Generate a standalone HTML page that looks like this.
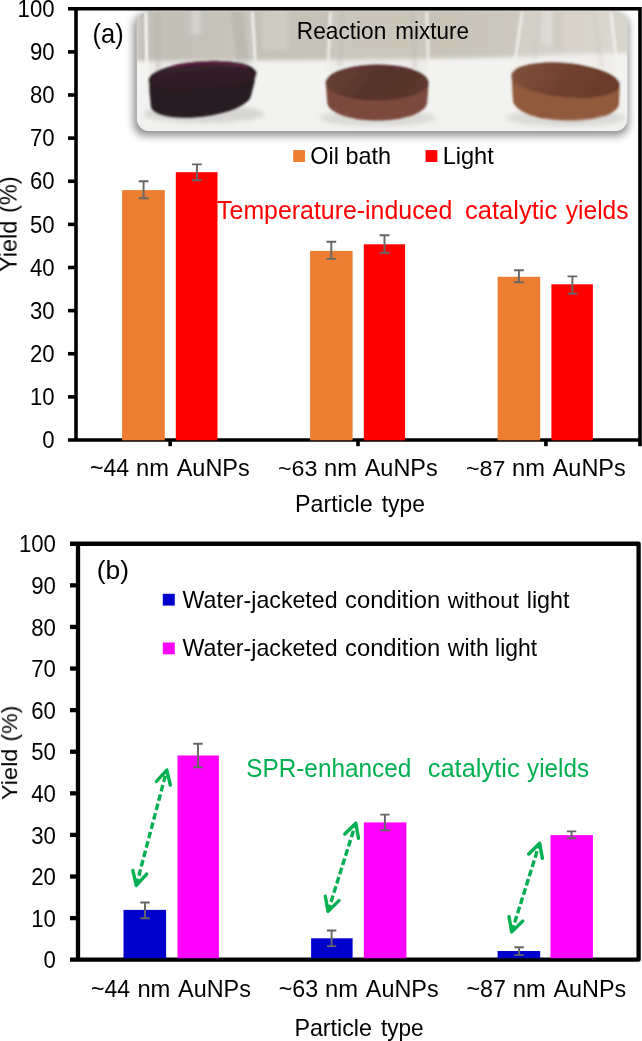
<!DOCTYPE html>
<html><head><meta charset="utf-8"><title>Figure</title>
<style>
html,body{margin:0;padding:0;background:#fff;}
body{width:642px;height:1041px;overflow:hidden;}
svg{display:block;font-family:"Liberation Sans",sans-serif;}
text{filter:url(#tb);}
</style></head><body>
<svg width="642" height="1041" viewBox="0 0 642 1041">
<defs><filter id="tb" x="-5%" y="-20%" width="110%" height="140%"><feGaussianBlur stdDeviation="0.35"/></filter></defs>
<rect width="642" height="1041" fill="#fff"/>
<defs>
<clipPath id="pc"><rect x="136.7" y="11.2" width="490.9" height="120.0" rx="13"/></clipPath>
<filter id="ps" x="-10%" y="-30%" width="120%" height="160%"><feGaussianBlur stdDeviation="4.2"/></filter>
<filter id="b1" x="-10%" y="-10%" width="120%" height="120%"><feGaussianBlur stdDeviation="1.0"/></filter>
<filter id="b2" x="-10%" y="-10%" width="120%" height="120%"><feGaussianBlur stdDeviation="2.2"/></filter>
<filter id="b5" x="-20%" y="-20%" width="140%" height="140%"><feGaussianBlur stdDeviation="5"/></filter>
<linearGradient id="wall" x1="0" y1="0" x2="1" y2="0">
<stop offset="0" stop-color="#d8d5cc"/><stop offset="0.018" stop-color="#d4d1c8"/><stop offset="0.035" stop-color="#bbb8b0"/><stop offset="0.12" stop-color="#bdbab1"/><stop offset="0.3" stop-color="#c5c2b8"/><stop offset="0.55" stop-color="#c5c0b3"/><stop offset="0.7" stop-color="#cac6bb"/><stop offset="0.85" stop-color="#d1cdc2"/><stop offset="1" stop-color="#d9d6cb"/></linearGradient>
<linearGradient id="tbl" x1="0" y1="0" x2="0" y2="1">
<stop offset="0" stop-color="#e9e8e5"/><stop offset="0.45" stop-color="#f3f3f1"/><stop offset="1" stop-color="#f0f0ee"/></linearGradient>
<linearGradient id="s1" x1="0" y1="0" x2="0" y2="1"><stop offset="0" stop-color="#4d1f3a"/><stop offset="0.25" stop-color="#33202a"/><stop offset="1" stop-color="#2b1b22"/></linearGradient>
<linearGradient id="s2" x1="0" y1="0" x2="1" y2="0.3"><stop offset="0" stop-color="#6c4236"/><stop offset="0.6" stop-color="#55332b"/><stop offset="1" stop-color="#5c372d"/></linearGradient>
<linearGradient id="s3" x1="0" y1="0" x2="1" y2="0.2"><stop offset="0" stop-color="#83523b"/><stop offset="0.55" stop-color="#70422e"/><stop offset="1" stop-color="#693c29"/></linearGradient>
</defs>
<rect x="133.7" y="14.2" width="494.9" height="121.5" rx="12" fill="#000" opacity="0.45" filter="url(#ps)"/>
<g clip-path="url(#pc)">
<rect x="136.7" y="11.2" width="490.9" height="120.0" fill="url(#tbl)"/>
<g filter="url(#b2)"><path d="M126.69999999999999 1.1999999999999993H637.6V52.5 L560 54.5 L500 57.5 L330 60 L126.69999999999999 61Z" fill="url(#wall)"/>
<path d="M196 8 V34" stroke="#e6e4de" stroke-width="9" opacity="0.55"/>
<path d="M275 8 V50" stroke="#d9d6cc" stroke-width="26" opacity="0.5"/>
<path d="M547 8 V44" stroke="#e8e6e0" stroke-width="11" opacity="0.55"/><path d="M558 8 V50" stroke="#b9b6ad" stroke-width="9" opacity="0.3"/>
</g>
<g filter="url(#b2)" opacity="0.25">
<ellipse cx="204" cy="114" rx="60" ry="9" fill="#8a8884"/>
<ellipse cx="378" cy="118" rx="58" ry="8" fill="#9a9894"/>
<ellipse cx="566" cy="118" rx="60" ry="8" fill="#9a9894"/>
</g>
<g filter="url(#b1)">
<path d="M147 0 L147 90 L257 80 L253 0Z" fill="#d4d2cb" opacity="0.25"/>
<path d="M145.8 12 L146.5 60 L148 86" stroke="#f7f6f0" stroke-width="3.4" opacity="0.95" fill="none"/>
<path d="M252.5 12 L256.3 80" stroke="#f2f1ec" stroke-width="3.2" opacity="0.85"/>
<path d="M158 12 V72" stroke="#b5b2a9" stroke-width="6" opacity="0.3"/>
<path d="M237 12 L243 64" stroke="#a5a29a" stroke-width="12" opacity="0.3"/>
<path d="M148.4 80.4 L148.5 79.0 L149.1 77.7 L150.0 76.3 L151.3 74.9 L153.0 73.5 L155.1 72.2 L157.6 70.9 L160.4 69.6 L163.5 68.4 L166.9 67.3 L170.6 66.2 L174.5 65.2 L178.7 64.3 L183.0 63.5 L187.5 62.7 L192.1 62.1 L196.7 61.6 L201.4 61.2 L206.1 61.0 L210.8 60.8 L215.5 60.8 L220.0 60.9 L224.4 61.1 L228.6 61.4 L232.6 61.8 L236.4 62.4 L240.0 63.1 L243.2 63.8 L246.2 64.7 L248.8 65.6 L251.0 66.7 L252.9 67.8 L254.4 69.0 L255.6 70.2 L256.3 71.5 L256.6 72.8 L256.5 74.2 L251.1 95.5 L250.7 97.0 L249.9 98.5 L248.8 100.1 L247.3 101.6 L245.4 103.1 L243.2 104.6 L240.7 106.1 L237.9 107.5 L234.8 108.9 L231.4 110.2 L227.8 111.4 L224.0 112.5 L220.0 113.6 L215.9 114.5 L211.7 115.4 L207.4 116.1 L203.0 116.7 L198.6 117.1 L194.3 117.5 L190.0 117.7 L185.8 117.8 L181.7 117.7 L177.7 117.5 L173.9 117.2 L170.3 116.8 L167.0 116.2 L163.9 115.5 L161.1 114.7 L158.6 113.8 L156.4 112.7 L154.6 111.6 L153.1 110.4 L152.0 109.1 L151.2 107.8 L150.9 106.4Z" fill="#281a20"/><ellipse cx="202.5" cy="76.6" rx="54.2" ry="15.4" transform="rotate(-4 202.5 76.6)" fill="url(#s1)"/>
<path d="M172 66.5 C190 61.5 225 60.5 247 67.5" stroke="#6a2449" stroke-width="2.4" fill="none" opacity="0.8"/>
</g>
<g filter="url(#b1)">
<path d="M330 0 L325.6 85 L428.8 85 L427 0Z" fill="#d9d6cf" opacity="0.25"/>
<path d="M330.5 12 L327 84" stroke="#f3f2ee" stroke-width="3.2" opacity="0.75"/>
<path d="M426.8 12 L429.2 84" stroke="#f3f2ee" stroke-width="3.2" opacity="0.75"/>
<path d="M342 12 L340 66" stroke="#b7b4aa" stroke-width="6" opacity="0.25"/>
<path d="M412 12 L415 68" stroke="#b7b4aa" stroke-width="6" opacity="0.25"/>
<path d="M325.7 82.6 L325.9 81.0 L326.5 79.5 L327.5 77.9 L328.8 76.4 L330.5 75.0 L332.6 73.6 L335.0 72.3 L337.7 71.0 L340.8 69.9 L344.1 68.8 L347.7 67.9 L351.4 67.0 L355.4 66.3 L359.6 65.7 L363.9 65.2 L368.3 64.9 L372.7 64.7 L377.2 64.6 L381.7 64.7 L386.1 64.9 L390.5 65.2 L394.8 65.7 L399.0 66.3 L402.9 67.0 L406.7 67.9 L410.3 68.8 L413.6 69.9 L416.7 71.0 L419.4 72.3 L421.8 73.6 L423.9 75.0 L425.6 76.4 L426.9 77.9 L427.9 79.5 L428.5 81.0 L428.7 82.6 L427.2 102.1 L427.0 103.7 L426.4 105.3 L425.5 106.9 L424.2 108.4 L422.5 109.9 L420.5 111.3 L418.2 112.7 L415.5 114.0 L412.6 115.2 L409.3 116.3 L405.9 117.3 L402.2 118.1 L398.3 118.9 L394.3 119.5 L390.1 120.0 L385.9 120.3 L381.6 120.5 L377.2 120.6 L372.8 120.5 L368.5 120.3 L364.3 120.0 L360.1 119.5 L356.1 118.9 L352.2 118.1 L348.5 117.3 L345.1 116.3 L341.8 115.2 L338.9 114.0 L336.2 112.7 L333.9 111.3 L331.9 109.9 L330.2 108.4 L328.9 106.9 L328.0 105.3 L327.4 103.7 L327.2 102.1Z" fill="#7b483c"/><ellipse cx="377.2" cy="82.6" rx="51.5" ry="18" transform="rotate(0 377.2 82.6)" fill="url(#s2)"/>
<path d="M347 69.5 C362 64.5 398 64.5 412 70" stroke="#6d2c42" stroke-width="2.2" fill="none" opacity="0.75"/>
</g>
<g filter="url(#b1)">
<path d="M523 0 L511 80 L620 90 L611 0Z" fill="#e6e4de" opacity="0.22"/>
<path d="M522 12 L512.6 78" stroke="#f5f4f0" stroke-width="3.2" opacity="0.7"/>
<path d="M611 12 L619.8 88" stroke="#f5f4f0" stroke-width="3" opacity="0.75"/>
<path d="M540 12 L534 60" stroke="#c2bfb6" stroke-width="6" opacity="0.2"/>
<path d="M594 12 L602 68" stroke="#c2bfb6" stroke-width="6" opacity="0.2"/>
<path d="M511.6 75.0 L511.9 73.5 L512.7 72.1 L513.8 70.7 L515.4 69.4 L517.3 68.2 L519.6 67.1 L522.3 66.1 L525.3 65.2 L528.6 64.4 L532.2 63.7 L536.0 63.2 L540.1 62.8 L544.3 62.5 L548.7 62.3 L553.3 62.3 L557.9 62.4 L562.6 62.7 L567.3 63.1 L572.1 63.6 L576.7 64.2 L581.3 65.0 L585.8 65.9 L590.1 66.9 L594.2 68.0 L598.1 69.2 L601.8 70.4 L605.2 71.8 L608.2 73.2 L611.0 74.7 L613.4 76.2 L615.5 77.7 L617.1 79.2 L618.4 80.8 L619.3 82.4 L619.8 83.9 L619.8 85.4 L619.0 103.5 L618.7 105.2 L618.0 106.9 L617.0 108.5 L615.5 110.1 L613.7 111.6 L611.5 113.0 L609.0 114.4 L606.1 115.6 L603.0 116.8 L599.5 117.8 L595.8 118.7 L591.9 119.5 L587.8 120.1 L583.5 120.6 L579.1 121.0 L574.5 121.2 L569.9 121.3 L565.3 121.2 L560.7 121.0 L556.1 120.6 L551.6 120.0 L547.2 119.4 L543.0 118.6 L538.9 117.7 L535.1 116.6 L531.4 115.4 L528.1 114.2 L525.0 112.8 L522.2 111.4 L519.8 109.8 L517.7 108.3 L516.0 106.6 L514.7 105.0 L513.7 103.3 L513.2 101.6 L513.0 99.9 L511.6 76.5Z" fill="#915a3d"/><ellipse cx="565.7" cy="80.2" rx="54.4" ry="17.2" transform="rotate(5.5 565.7 80.2)" fill="url(#s3)"/>
<path d="M545 119 C560 122 590 121 603 116" stroke="#e9e2dc" stroke-width="1.6" fill="none" opacity="0.7" stroke-dasharray="2 1.5"/>
</g>
</g>
<path d="M68.0 8.75H640.0V446.2" stroke="#000" stroke-width="3.6" fill="none"/>
<path d="M76.0 8.75V440.0M68.0 440.0H640.0" stroke="#000" stroke-width="3.6" fill="none"/>
<path d="M68.0 396.88H76.0" stroke="#000" stroke-width="3.6"/>
<path d="M68.0 353.75H76.0" stroke="#000" stroke-width="3.6"/>
<path d="M68.0 310.62H76.0" stroke="#000" stroke-width="3.6"/>
<path d="M68.0 267.50H76.0" stroke="#000" stroke-width="3.6"/>
<path d="M68.0 224.38H76.0" stroke="#000" stroke-width="3.6"/>
<path d="M68.0 181.25H76.0" stroke="#000" stroke-width="3.6"/>
<path d="M68.0 138.12H76.0" stroke="#000" stroke-width="3.6"/>
<path d="M68.0 95.00H76.0" stroke="#000" stroke-width="3.6"/>
<path d="M68.0 51.88H76.0" stroke="#000" stroke-width="3.6"/>
<path d="M170.15 440.0V446.2" stroke="#000" stroke-width="3.6"/>
<path d="M358.00 440.0V446.2" stroke="#000" stroke-width="3.6"/>
<path d="M545.90 440.0V446.2" stroke="#000" stroke-width="3.6"/>
<rect x="122.1" y="190.1" width="42.70" height="250.20" fill="#ED7D31"/>
<path d="M143.60 181.20V198.30M138.70 181.20H148.50M138.70 198.30H148.50" stroke="#666" stroke-width="1.9" fill="none"/>
<rect x="175.8" y="172.2" width="41.70" height="268.10" fill="#FF0000"/>
<path d="M196.90 164.40V180.20M192.00 164.40H201.80M192.00 180.20H201.80" stroke="#666" stroke-width="1.9" fill="none"/>
<rect x="310.1" y="250.9" width="42.50" height="189.40" fill="#ED7D31"/>
<path d="M331.30 241.80V258.90M326.40 241.80H336.20M326.40 258.90H336.20" stroke="#666" stroke-width="1.9" fill="none"/>
<rect x="363.8" y="244.3" width="41.30" height="196.00" fill="#FF0000"/>
<path d="M384.50 235.20V252.70M379.60 235.20H389.40M379.60 252.70H389.40" stroke="#666" stroke-width="1.9" fill="none"/>
<rect x="497.6" y="276.8" width="42.60" height="163.50" fill="#ED7D31"/>
<path d="M518.90 270.30V282.20M514.00 270.30H523.80M514.00 282.20H523.80" stroke="#666" stroke-width="1.9" fill="none"/>
<rect x="551.4" y="284.3" width="41.50" height="156.00" fill="#FF0000"/>
<path d="M572.40 276.40V293.60M567.50 276.40H577.30M567.50 293.60H577.30" stroke="#666" stroke-width="1.9" fill="none"/>
<text transform="translate(42.31,448.20) scale(0.9650,1)" font-size="23.0" fill="#000">0</text>
<text transform="translate(29.97,405.07) scale(0.9650,1)" font-size="23.0" fill="#000">10</text>
<text transform="translate(29.97,361.95) scale(0.9650,1)" font-size="23.0" fill="#000">20</text>
<text transform="translate(29.97,318.82) scale(0.9650,1)" font-size="23.0" fill="#000">30</text>
<text transform="translate(29.97,275.70) scale(0.9650,1)" font-size="23.0" fill="#000">40</text>
<text transform="translate(29.97,232.57) scale(0.9650,1)" font-size="23.0" fill="#000">50</text>
<text transform="translate(29.97,189.45) scale(0.9650,1)" font-size="23.0" fill="#000">60</text>
<text transform="translate(29.97,146.32) scale(0.9650,1)" font-size="23.0" fill="#000">70</text>
<text transform="translate(29.97,103.20) scale(0.9650,1)" font-size="23.0" fill="#000">80</text>
<text transform="translate(29.97,60.08) scale(0.9650,1)" font-size="23.0" fill="#000">90</text>
<text transform="translate(17.62,16.95) scale(0.9650,1)" font-size="23.0" fill="#000">100</text>
<text transform="translate(16.60,271.97) rotate(-90) scale(1.0087,1)" font-size="23.3" fill="#000">Yield</text>
<text transform="translate(16.60,212.90) rotate(-90) scale(1.0107,1)" font-size="23.3" fill="#000">(%)</text>
<text transform="translate(89.93,476.00) scale(1.0034,1)" font-size="23.0" fill="#000">~44</text>
<text transform="translate(136.02,476.00) scale(1.0316,1)" font-size="23.0" fill="#000">nm</text>
<text transform="translate(176.70,476.00) scale(1.0203,1)" font-size="23.0" fill="#000">AuNPs</text>
<text transform="translate(277.92,476.00) scale(1.0130,1)" font-size="23.0" fill="#000">~63</text>
<text transform="translate(324.02,476.00) scale(1.0316,1)" font-size="23.0" fill="#000">nm</text>
<text transform="translate(364.70,476.00) scale(1.0203,1)" font-size="23.0" fill="#000">AuNPs</text>
<text transform="translate(465.92,476.00) scale(1.0130,1)" font-size="23.0" fill="#000">~87</text>
<text transform="translate(512.02,476.00) scale(1.0316,1)" font-size="23.0" fill="#000">nm</text>
<text transform="translate(552.70,476.00) scale(1.0203,1)" font-size="23.0" fill="#000">AuNPs</text>
<text transform="translate(295.08,511.90) scale(1.0113,1)" font-size="23.0" fill="#000">Particle</text>
<text transform="translate(381.70,511.90) scale(0.9943,1)" font-size="23.0" fill="#000">type</text>
<text transform="translate(92.61,43.10) scale(0.9428,1)" font-size="27.0" fill="#000">(a)</text>
<text transform="translate(296.73,38.50) scale(0.9464,1)" font-size="24.0" fill="#000">Reaction</text>
<text transform="translate(395.30,38.50) scale(0.9356,1)" font-size="24.0" fill="#000">mixture</text>
<rect x="293.2" y="150.1" width="11.8" height="11.9" fill="#ED7D31"/>
<text transform="translate(310.30,163.50) scale(1.0196,1)" font-size="23.0" fill="#000">Oil bath</text>
<rect x="425.6" y="150.1" width="11.8" height="11.9" fill="#FF0000"/>
<text transform="translate(442.66,163.50) scale(1.0258,1)" font-size="23.0" fill="#000">Light</text>
<text transform="translate(217.11,218.60) scale(0.9764,1)" font-size="25.5" fill="#FF0000">Temperature-induced</text>
<text transform="translate(465.00,218.60) scale(1.0020,1)" font-size="25.5" fill="#FF0000">catalytic</text>
<text transform="translate(565.80,218.60) scale(0.9628,1)" font-size="25.5" fill="#FF0000">yields</text>
<path d="M70.0 543.75H638.6V959.7H70.0M78.0 543.75V959.7" stroke="#000" stroke-width="4.3" fill="none" stroke-linejoin="round"/>
<path d="M70.0 918.11H78.0" stroke="#000" stroke-width="4.3"/>
<path d="M70.0 876.51H78.0" stroke="#000" stroke-width="4.3"/>
<path d="M70.0 834.92H78.0" stroke="#000" stroke-width="4.3"/>
<path d="M70.0 793.32H78.0" stroke="#000" stroke-width="4.3"/>
<path d="M70.0 751.73H78.0" stroke="#000" stroke-width="4.3"/>
<path d="M70.0 710.13H78.0" stroke="#000" stroke-width="4.3"/>
<path d="M70.0 668.54H78.0" stroke="#000" stroke-width="4.3"/>
<path d="M70.0 626.94H78.0" stroke="#000" stroke-width="4.3"/>
<path d="M70.0 585.35H78.0" stroke="#000" stroke-width="4.3"/>
<rect x="123.5" y="909.9" width="42.60" height="48.30" fill="#0000CC"/>
<path d="M145.00 902.50V918.30M140.30 902.50H149.70M140.30 918.30H149.70" stroke="#666" stroke-width="1.9" fill="none"/>
<rect x="177.5" y="755.5" width="41.40" height="202.70" fill="#FF00FF"/>
<path d="M198.00 743.70V767.20M193.30 743.70H202.70M193.30 767.20H202.70" stroke="#666" stroke-width="1.9" fill="none"/>
<rect x="311.1" y="938.3" width="41.50" height="19.90" fill="#0000CC"/>
<path d="M331.60 930.50V946.10M326.90 930.50H336.30M326.90 946.10H336.30" stroke="#666" stroke-width="1.9" fill="none"/>
<rect x="363.8" y="822.4" width="42.60" height="135.80" fill="#FF00FF"/>
<path d="M384.90 814.60V830.20M380.20 814.60H389.60M380.20 830.20H389.60" stroke="#666" stroke-width="1.9" fill="none"/>
<rect x="497.6" y="951.0" width="42.60" height="7.20" fill="#0000CC"/>
<path d="M519.10 947.30V955.10M514.40 947.30H523.80M514.40 955.10H523.80" stroke="#666" stroke-width="1.9" fill="none"/>
<rect x="550.5" y="835.1" width="42.40" height="123.10" fill="#FF00FF"/>
<path d="M571.60 831.40V838.30M566.90 831.40H576.30M566.90 838.30H576.30" stroke="#666" stroke-width="1.9" fill="none"/>
<text transform="translate(43.61,968.40) scale(0.9650,1)" font-size="23.0" fill="#000">0</text>
<text transform="translate(31.27,926.81) scale(0.9650,1)" font-size="23.0" fill="#000">10</text>
<text transform="translate(31.27,885.21) scale(0.9650,1)" font-size="23.0" fill="#000">20</text>
<text transform="translate(31.27,843.62) scale(0.9650,1)" font-size="23.0" fill="#000">30</text>
<text transform="translate(31.27,802.02) scale(0.9650,1)" font-size="23.0" fill="#000">40</text>
<text transform="translate(31.27,760.43) scale(0.9650,1)" font-size="23.0" fill="#000">50</text>
<text transform="translate(31.27,718.83) scale(0.9650,1)" font-size="23.0" fill="#000">60</text>
<text transform="translate(31.27,677.24) scale(0.9650,1)" font-size="23.0" fill="#000">70</text>
<text transform="translate(31.27,635.64) scale(0.9650,1)" font-size="23.0" fill="#000">80</text>
<text transform="translate(31.27,594.05) scale(0.9650,1)" font-size="23.0" fill="#000">90</text>
<text transform="translate(18.92,552.45) scale(0.9650,1)" font-size="23.0" fill="#000">100</text>
<text transform="translate(17.10,800.07) rotate(-90) scale(1.0466,1)" font-size="22.5" fill="#000">Yield</text>
<text transform="translate(17.10,741.58) rotate(-90) scale(1.0253,1)" font-size="22.5" fill="#000">(%)</text>
<text transform="translate(91.08,996.50) scale(1.0020,1)" font-size="23.0" fill="#000">~44</text>
<text transform="translate(137.41,996.50) scale(1.0333,1)" font-size="23.0" fill="#000">nm</text>
<text transform="translate(178.10,996.50) scale(1.0174,1)" font-size="23.0" fill="#000">AuNPs</text>
<text transform="translate(278.77,996.50) scale(1.0117,1)" font-size="23.0" fill="#000">~63</text>
<text transform="translate(325.11,996.50) scale(1.0333,1)" font-size="23.0" fill="#000">nm</text>
<text transform="translate(365.80,996.50) scale(1.0174,1)" font-size="23.0" fill="#000">AuNPs</text>
<text transform="translate(466.47,996.50) scale(1.0117,1)" font-size="23.0" fill="#000">~87</text>
<text transform="translate(512.81,996.50) scale(1.0333,1)" font-size="23.0" fill="#000">nm</text>
<text transform="translate(553.50,996.50) scale(1.0174,1)" font-size="23.0" fill="#000">AuNPs</text>
<text transform="translate(294.38,1036.20) scale(1.0113,1)" font-size="23.0" fill="#000">Particle</text>
<text transform="translate(380.90,1036.20) scale(0.9849,1)" font-size="23.0" fill="#000">type</text>
<text transform="translate(96.76,579.00) scale(0.9938,1)" font-size="26.6" fill="#000">(b)</text>
<rect x="162.8" y="593.8" width="12" height="11.8" fill="#0000CC"/>
<rect x="162.8" y="642.5" width="12" height="11.8" fill="#FF00FF"/>
<text transform="translate(182.60,607.80) scale(1.0084,1)" font-size="23.0" fill="#000">Water-jacketed</text>
<text transform="translate(345.06,607.80) scale(1.0338,1)" font-size="23.0" fill="#000">condition</text>
<text transform="translate(447.85,607.80) scale(0.9780,1)" font-size="23.0" fill="#000">without</text>
<text transform="translate(526.74,607.80) scale(1.0163,1)" font-size="23.0" fill="#000">light</text>
<text transform="translate(182.60,656.40) scale(1.0084,1)" font-size="23.0" fill="#000">Water-jacketed</text>
<text transform="translate(345.06,656.40) scale(1.0338,1)" font-size="23.0" fill="#000">condition</text>
<text transform="translate(447.86,656.40) scale(1.0008,1)" font-size="23.0" fill="#000">with</text>
<text transform="translate(495.07,656.40) scale(0.9967,1)" font-size="23.0" fill="#000">light</text>
<text transform="translate(246.24,776.80) scale(0.9364,1)" font-size="26.0" fill="#00B050">SPR-enhanced</text>
<text transform="translate(427.70,776.80) scale(0.9795,1)" font-size="26.0" fill="#00B050">catalytic</text>
<text transform="translate(527.10,776.80) scale(0.9321,1)" font-size="26.0" fill="#00B050">yields</text>
<path d="M136.6 884.2L166.5 771.3" stroke="#00B050" stroke-width="3.4" stroke-dasharray="6.6 3.1" stroke-dashoffset="1" fill="none"/>
<path d="M146.7 874.1L136.3 885.4L132.8 870.4" stroke="#00B050" stroke-width="3.4" fill="none" stroke-linecap="round" stroke-linejoin="round"/>
<path d="M170.3 785.1L166.8 770.1L156.4 781.4" stroke="#00B050" stroke-width="3.4" fill="none" stroke-linecap="round" stroke-linejoin="round"/>
<path d="M328.4 910.2L355.4 824.4" stroke="#00B050" stroke-width="3.4" stroke-dasharray="6.6 3.1" stroke-dashoffset="1" fill="none"/>
<path d="M339.0 900.6L328.0 911.4L325.3 896.2" stroke="#00B050" stroke-width="3.4" fill="none" stroke-linecap="round" stroke-linejoin="round"/>
<path d="M358.5 838.4L355.8 823.2L344.8 834.0" stroke="#00B050" stroke-width="3.4" fill="none" stroke-linecap="round" stroke-linejoin="round"/>
<path d="M512.1 930.7L539.3 844.4" stroke="#00B050" stroke-width="3.4" stroke-dasharray="6.6 3.1" stroke-dashoffset="1" fill="none"/>
<path d="M522.7 921.1L511.7 931.9L509.0 916.7" stroke="#00B050" stroke-width="3.4" fill="none" stroke-linecap="round" stroke-linejoin="round"/>
<path d="M542.4 858.4L539.7 843.2L528.7 854.0" stroke="#00B050" stroke-width="3.4" fill="none" stroke-linecap="round" stroke-linejoin="round"/>
</svg>
</body></html>
